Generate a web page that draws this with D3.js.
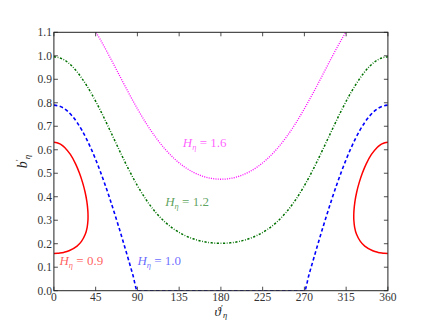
<!DOCTYPE html>
<html>
<head>
<meta charset="utf-8">
<script src="https://cdn.jsdelivr.net/npm/d3@7"></script>
<style>
  html, body { margin: 0; padding: 0; background: #fff; }
  svg { display: block; }
  text { font-family: "Liberation Serif", "DejaVu Serif", serif; }
</style>
</head>
<body>
<svg id="chart" width="431" height="323"></svg>
<script>
// ---- data ----
const angles = [0,10,20,30,40,50,60,70,80,90,100,110,120,130,140,150,160,170,180,
                190,200,210,220,230,240,250,260,270,280,290,300,310,320,330,340,350,360];

// H = 1.6 (magenta, dotted)
const h16 = [1.2645,1.2558,1.2301,1.1889,1.1342,1.0691,0.9969,0.9214,0.8462,0.7746,
             0.7090,0.6512,0.6019,0.5613,0.5290,0.5047,0.4878,0.4778,0.4745,
             0.4778,0.4878,0.5047,0.5290,0.5613,0.6019,0.6512,0.7090,0.7746,
             0.8462,0.9214,0.9969,1.0691,1.1342,1.1889,1.2301,1.2558,1.2645];

// H = 1.2 (green, dash-dot)
const h12 = [0.9960,0.9850,0.9540,0.9051,0.8425,0.7682,0.6864,0.6023,0.5210,0.4472,
             0.3839,0.3321,0.2914,0.2604,0.2374,0.2210,0.2100,0.2037,0.2017,
             0.2037,0.2100,0.2210,0.2374,0.2604,0.2914,0.3321,0.3839,0.4472,
             0.5210,0.6023,0.6864,0.7682,0.8425,0.9051,0.9540,0.9850,0.9960];

// H = 1.0 (blue, dashed)
const blueAngles = [0,10,20,30,40,50,60,70,80,85,90,270,275,280,290,300,310,320,330,340,350,360];
const h10 = [0.790,0.778,0.7424,0.6842,0.6052,0.5078,0.395,0.2702,0.1372,0.0689,0,
             0,0.0689,0.1372,0.2702,0.395,0.5078,0.6052,0.6842,0.7424,0.778,0.790];

// H = 0.9 (red, solid) : closed loops touching 0° and 360°
const redB     = [0.1583,0.159,0.160,0.163,0.170,0.190,0.210,0.240,0.270,0.300,0.3162,
                  0.340,0.380,0.420,0.460,0.500,0.540,0.580,0.610,0.620,0.625,0.630,0.6317];
const redTheta = [0,4.15,6.45,10.6,16.3,24.95,29.7,33.8,35.85,36.7,36.8,
                  36.6,35.5,33.6,30.95,27.6,23.35,17.75,11.6,8.5,6.45,3.25,0];

const xTicks = [0,45,90,135,180,225,270,315,360];
const yTicks = [0.0,0.1,0.2,0.3,0.4,0.5,0.6,0.7,0.8,0.9,1.0,1.1];

const labels = [
  {text:"1.6", angle:139, value:0.610, color:"rgba(255,0,255,0.65)"},
  {text:"1.2", angle:120, value:0.360, color:"rgba(0,110,0,0.65)"},
  {text:"1.0", angle:90,  value:0.110, color:"rgba(0,0,255,0.6)"},
  {text:"0.9", angle:6,   value:0.110, color:"rgba(255,0,0,0.65)"}
];

// ---- layout ----
const m = {left: 53.9, right: 387.9, top: 32.3, bottom: 290.7};
const svg = d3.select("#chart");

const x = d3.scaleLinear().domain([0,360]).range([m.left, m.right]);
const y = d3.scaleLinear().domain([0,1.1]).range([m.bottom, m.top]);

svg.append("defs").append("clipPath").attr("id","clip")
  .append("rect").attr("x",m.left).attr("y",m.top)
  .attr("width",m.right-m.left).attr("height",m.bottom-m.top);

const g = svg.append("g").attr("clip-path","url(#clip)");

const line = d3.line().x(d=>x(d[0])).y(d=>y(d[1])).curve(d3.curveMonotoneX);
const pline = d3.line().x(d=>x(d[0])).y(d=>y(d[1])).curve(d3.curveCatmullRom.alpha(0.5));

g.append("path").datum(angles.map((a,i)=>[a,h16[i]]))
  .attr("d",line).attr("fill","none").attr("stroke","#ff00ff")
  .attr("stroke-width",1.3).attr("stroke-dasharray","1,1.3");

g.append("path").datum(angles.map((a,i)=>[a,h12[i]]))
  .attr("d",line).attr("fill","none").attr("stroke","#007000")
  .attr("stroke-width",1.5).attr("stroke-dasharray","2.2,1.6,0.8,1.6");

g.append("path").datum(blueAngles.map((a,i)=>[a,h10[i]]))
  .attr("d",line).attr("fill","none").attr("stroke","#0000ff")
  .attr("stroke-width",1.6).attr("stroke-dasharray","3.5,2.5");

g.append("path").datum(redTheta.map((t,i)=>[t,redB[i]]))
  .attr("d",pline).attr("fill","none").attr("stroke","#ff0000").attr("stroke-width",1.5);
g.append("path").datum(redTheta.map((t,i)=>[360-t,redB[i]]))
  .attr("d",pline).attr("fill","none").attr("stroke","#ff0000").attr("stroke-width",1.5);

// ---- frame & ticks ----
const frame = svg.append("g");
frame.append("rect").attr("x",m.left).attr("y",m.top)
  .attr("width",m.right-m.left).attr("height",m.bottom-m.top)
  .attr("fill","none").attr("stroke","#222").attr("stroke-width",1);

const tl = 4;
xTicks.forEach(t=>{
  frame.append("line").attr("x1",x(t)).attr("x2",x(t)).attr("y1",m.bottom).attr("y2",m.bottom-tl)
    .attr("stroke","#222").attr("stroke-width",0.8);
  frame.append("line").attr("x1",x(t)).attr("x2",x(t)).attr("y1",m.top).attr("y2",m.top+tl)
    .attr("stroke","#222").attr("stroke-width",0.8);
  svg.append("text").attr("x",x(t)).attr("y",m.bottom+10.5)
    .attr("text-anchor","middle").attr("font-size",11.5).attr("fill","#333").text(t);
});
yTicks.forEach(t=>{
  frame.append("line").attr("x1",m.left).attr("x2",m.left+tl).attr("y1",y(t)).attr("y2",y(t))
    .attr("stroke","#222").attr("stroke-width",0.8);
  frame.append("line").attr("x1",m.right).attr("x2",m.right-tl).attr("y1",y(t)).attr("y2",y(t))
    .attr("stroke","#222").attr("stroke-width",0.8);
  svg.append("text").attr("x",m.left-2).attr("y",y(t)+3.8)
    .attr("text-anchor","end").attr("font-size",11.5).attr("fill","#333").text(d3.format(".1f")(t));
});

// ---- curve labels ----
labels.forEach(l=>{
  const t = svg.append("text").attr("x",x(l.angle)).attr("y",y(l.value))
    .attr("font-size",13).attr("fill",l.color);
  t.append("tspan").attr("font-style","italic").text("H");
  t.append("tspan").attr("font-style","italic").attr("font-size",8.5).attr("dy",3).text("η");
  t.append("tspan").attr("dy",-3).text(" = " + l.text);
});

// ---- axis titles ----
const xl = svg.append("text").attr("x",(m.left+m.right)/2).attr("y",316)
  .attr("text-anchor","middle").attr("font-size",13).attr("fill","#222");
xl.append("tspan").attr("font-style","italic").text("ϑ");
xl.append("tspan").attr("font-size",9).attr("dy",-5).text("′");
xl.append("tspan").attr("font-style","italic").attr("font-size",8.5).attr("dy",7).text("η");

const yl = svg.append("text").attr("transform",`translate(27,${(m.top+m.bottom)/2}) rotate(-90)`)
  .attr("text-anchor","middle").attr("font-size",14).attr("fill","#222");
yl.append("tspan").attr("font-style","italic").text("b");
yl.append("tspan").attr("font-size",9).attr("dy",-5).text("′");
yl.append("tspan").attr("font-style","italic").attr("font-size",9).attr("dy",8).text("η");
</script>
</body>
</html>
